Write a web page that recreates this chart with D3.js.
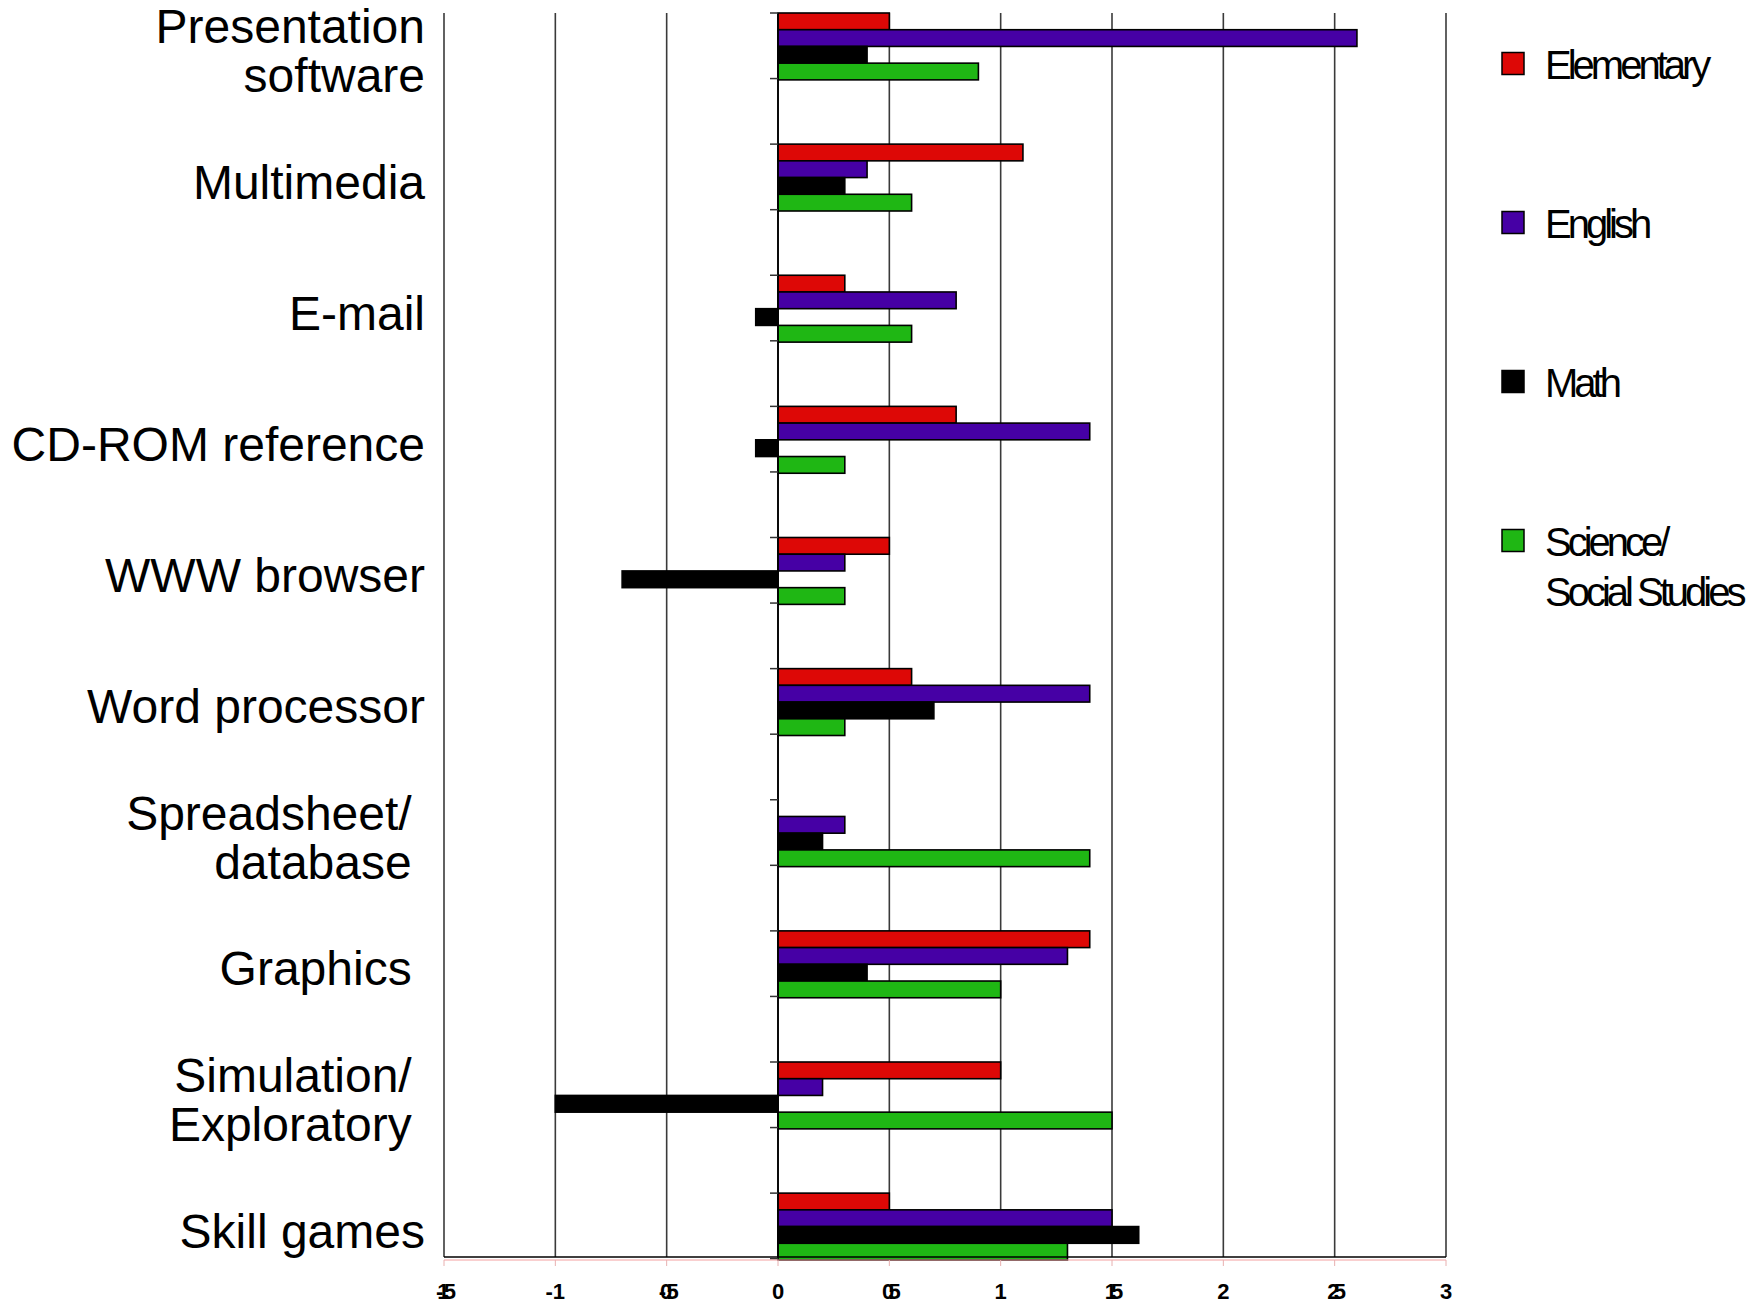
<!DOCTYPE html>
<html>
<head>
<meta charset="utf-8">
<script src="https://cdn.jsdelivr.net/npm/d3@7"></script>
<style>
  html, body { margin: 0; padding: 0; background: #fff; }
  svg { display: block; }
  text { font-family: "Liberation Sans", Arial, sans-serif; }
</style>
</head>
<body>
<script>
// ---- Data ----
const categories = ["Presentation software", "Multimedia", "E-mail", "CD-ROM reference", "WWW browser",
  "Word processor", "Spreadsheet/database", "Graphics", "Simulation/Exploratory", "Skill games"];
const categoryLabelLines = [
  ["Presentation", "software"], ["Multimedia"], ["E-mail"], ["CD-ROM reference"], ["WWW browser"],
  ["Word processor"], ["Spreadsheet/ ", "database "], ["Graphics "], ["Simulation/ ", "Exploratory "], ["Skill games"]
];
const seriesNames = ["Elementary", "English", "Math", "Science/Social Studies"];
const legendLabelLines = [["Elementary"], ["English"], ["Math"], ["Science/", "Social Studies"]];
const elementary = [0.5, 1.1, 0.3, 0.8, 0.5, 0.6, null, 1.4, 1.0, 0.5];
const english    = [2.6, 0.4, 0.8, 1.4, 0.3, 1.4, 0.3, 1.3, 0.2, 1.5];
const math       = [0.4, 0.3, -0.1, -0.1, -0.7, 0.7, 0.2, 0.4, -1.0, 1.62];
const science    = [0.9, 0.6, 0.6, 0.3, 0.3, 0.3, 1.4, 1.0, 1.5, 1.3];
const xTicks = [-1.5, -1, -0.5, 0, 0.5, 1, 1.5, 2, 2.5, 3];
const xTickLabels = ["-1.5", "-1", "-0.5", "0", "0.5", "1", "1.5", "2", "2.5", "3"];
const seriesColors = ["#DD0806", "#4600A5", "#000000", "#1FB714"];

const seriesValues = [elementary, english, math, science];

// ---- Layout ----
const W = 1758, H = 1306;
const plot = { left: 444, right: 1446, top: 13, bottom: 1257 };

const svg = d3.select("body").append("svg").attr("width", W).attr("height", H);
svg.append("rect").attr("width", W).attr("height", H).attr("fill", "#fff");

const x = d3.scaleLinear().domain([-1.5, 3]).range([plot.left, plot.right]);
const y = d3.scaleBand().domain(categories).range([plot.top, 1260]).paddingInner(0.49).paddingOuter(0);
const yInner = d3.scaleBand().domain(seriesNames).range([0, y.bandwidth()]).padding(0);

// gridlines
svg.append("g").selectAll("line").data(xTicks).join("line")
  .attr("x1", d => x(d)).attr("x2", d => x(d))
  .attr("y1", plot.top).attr("y2", plot.bottom)
  .attr("stroke", d => d === 0 ? "#000" : "#3a3a3a")
  .attr("stroke-width", 1.6);

// bars
const groups = svg.append("g").selectAll("g").data(categories).join("g")
  .attr("transform", d => `translate(0,${y(d)})`);

groups.selectAll("rect")
  .data((c, i) => seriesNames.map((s, j) => ({ s, j, v: seriesValues[j][i] })).filter(d => d.v !== null))
  .join("rect")
  .attr("x", d => x(Math.min(0, d.v)))
  .attr("width", d => Math.abs(x(d.v) - x(0)))
  .attr("y", d => yInner(d.s))
  .attr("height", yInner.bandwidth())
  .attr("fill", d => seriesColors[d.j])
  .attr("stroke", "#000")
  .attr("stroke-width", 1.6);

// value axis (x = 0) line
svg.append("line")
  .attr("x1", x(0)).attr("x2", x(0)).attr("y1", plot.top).attr("y2", plot.bottom)
  .attr("stroke", "#000").attr("stroke-width", 1.6);

// category ticks on the x=0 axis at half-steps
const catTicks = [];
categories.forEach(c => { catTicks.push(y(c)); catTicks.push(y(c) + y.step() / 2); });
svg.append("g").selectAll("line").data(catTicks).join("line")
  .attr("x1", x(0) - 8).attr("x2", x(0))
  .attr("y1", d => d).attr("y2", d => d)
  .attr("stroke", "#333").attr("stroke-width", 1.5);

// bottom axis line
svg.append("line")
  .attr("x1", plot.left).attr("x2", plot.right).attr("y1", plot.bottom).attr("y2", plot.bottom)
  .attr("stroke", "#000").attr("stroke-width", 1.6);
// faint red line + ticks under the axis
svg.append("line")
  .attr("x1", plot.left).attr("x2", plot.right).attr("y1", plot.bottom + 3).attr("y2", plot.bottom + 3)
  .attr("stroke", "#f3a0a0").attr("stroke-width", 1);
svg.append("g").selectAll("line").data(xTicks).join("line")
  .attr("x1", d => x(d)).attr("x2", d => x(d))
  .attr("y1", plot.bottom + 3).attr("y2", plot.bottom + 9)
  .attr("stroke", "#e8b0b0").attr("stroke-width", 1);

// tick labels
svg.append("g").selectAll("text").data(xTicks).join("text")
  .attr("x", d => x(d))
  .attr("y", 1299)
  .attr("text-anchor", "middle")
  .attr("font-size", 22)
  .attr("font-weight", "bold")
  .style("letter-spacing", (d, i) => xTickLabels[i].includes(".") ? "-6px" : "0px")
  .attr("dx", (d, i) => xTickLabels[i].includes(".") ? -1 : 0)
  .text((d, i) => xTickLabels[i]);

// category labels
const lineH = 49;
const labelG = svg.append("g");
categories.forEach((c, i) => {
  const lines = categoryLabelLines[i];
  const cy = y(c) + y.bandwidth() / 2 + 4;
  const t = labelG.append("text")
    .attr("text-anchor", "end")
    .attr("font-size", 48)
    .attr("fill", "#000")
    .style("white-space", "pre");
  lines.forEach((ln, k) => {
    t.append("tspan")
      .attr("x", 425)
      .attr("y", cy + (k - (lines.length - 1) / 2) * lineH + 17)
      .text(ln);
  });
});

// legend
const legendStep = 159;
const legend = svg.append("g");
seriesNames.forEach((s, i) => {
  const cy = 63.5 + i * legendStep;
  legend.append("rect")
    .attr("x", 1502).attr("y", cy - 11).attr("width", 22).attr("height", 22)
    .attr("fill", seriesColors[i]).attr("stroke", "#000").attr("stroke-width", 1.5);
  const t = legend.append("text")
    .attr("font-size", 40)
    .style("letter-spacing", "-4px")
    .attr("fill", "#000");
  legendLabelLines[i].forEach((ln, k) => {
    t.append("tspan").attr("x", 1545).attr("y", cy + 15 + k * 50).text(ln);
  });
});
</script>
</body>
</html>
